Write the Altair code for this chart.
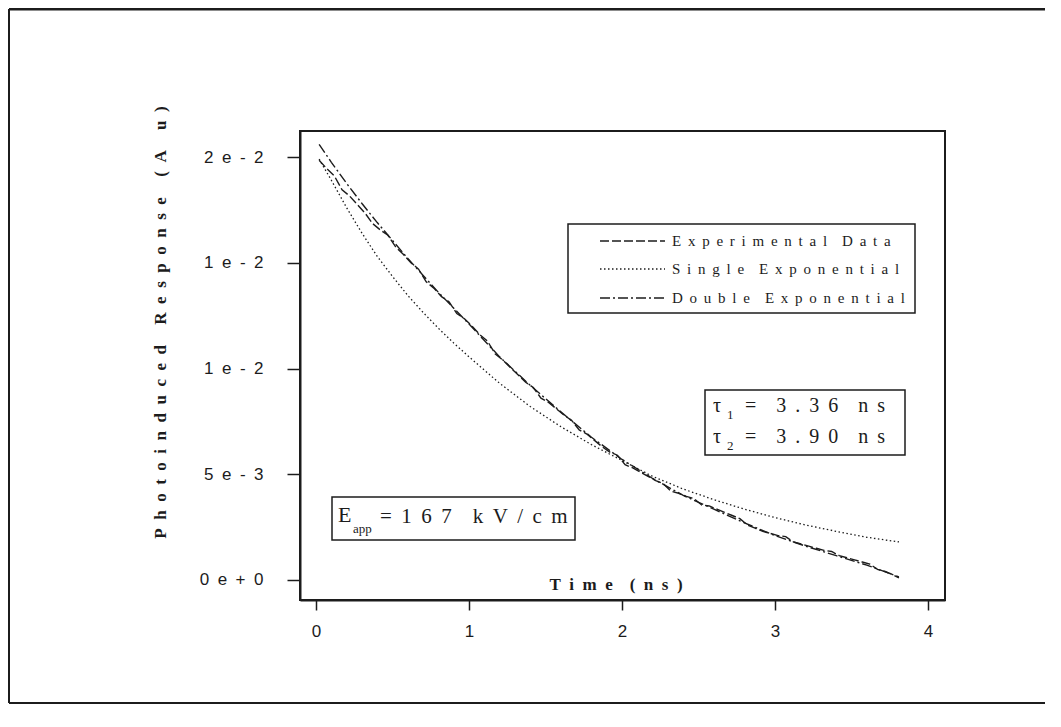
import altair as alt
import pandas as pd

# ---------------- data ----------------
# time in ns, response in units of 1e-3 (A u)
t_exp = [0.02, 0.07, 0.12, 0.17, 0.22, 0.27, 0.32, 0.37, 0.42, 0.47, 0.52, 0.57, 0.62,
         0.67, 0.72, 0.77, 0.82, 0.87, 0.92, 0.97, 1.02, 1.07, 1.12, 1.17, 1.22, 1.27,
         1.32, 1.37, 1.42, 1.47, 1.52, 1.57, 1.62, 1.67, 1.72, 1.77, 1.82, 1.87, 1.92,
         1.97, 2.02, 2.07, 2.12, 2.17, 2.22, 2.27, 2.32, 2.37, 2.42, 2.47, 2.52, 2.57,
         2.62, 2.67, 2.72, 2.77, 2.82, 2.87, 2.92, 2.97, 3.02, 3.07, 3.12, 3.17, 3.22,
         3.27, 3.32, 3.37, 3.42, 3.47, 3.52, 3.57, 3.62, 3.67, 3.72, 3.77, 3.81]
y_exp = [19.85, 19.45, 19.10, 18.45, 18.15, 17.75, 17.35, 16.85, 16.55, 16.30, 15.75, 15.40,
         15.00, 14.70, 14.10, 13.80, 13.40, 13.15, 12.60, 12.35, 12.00, 11.60, 11.30, 10.70,
         10.40, 10.05, 9.70, 9.35, 9.10, 8.60, 8.40, 8.10, 7.80, 7.55, 7.10, 6.90, 6.60,
         6.30, 6.05, 5.90, 5.45, 5.30, 5.10, 4.90, 4.70, 4.55, 4.20, 4.10, 3.95, 3.85,
         3.55, 3.50, 3.35, 3.20, 3.05, 2.90, 2.60, 2.45, 2.30, 2.20, 2.10, 2.05, 1.80,
         1.70, 1.60, 1.50, 1.40, 1.35, 1.15, 1.05, 0.95, 0.85, 0.75, 0.50, 0.40, 0.25, 0.10]

t_single = [0.02, 0.1, 0.2, 0.3, 0.4, 0.5, 0.6, 0.7, 0.8, 0.9, 1.0, 1.2, 1.4, 1.6, 1.8,
            2.0, 2.2, 2.4, 2.6, 2.8, 3.0, 3.2, 3.4, 3.6, 3.81]
y_single = [19.9, 18.9, 17.6, 16.4, 15.3, 14.35, 13.45, 12.65, 11.9, 11.2, 10.55, 9.3,
            8.2, 7.25, 6.4, 5.65, 4.9, 4.3, 3.8, 3.35, 2.95, 2.6, 2.3, 2.02, 1.8]

t_double = [0.02, 0.1, 0.2, 0.3, 0.4, 0.5, 0.6, 0.7, 0.8, 0.9, 1.0, 1.2, 1.4, 1.6, 1.8,
            2.0, 2.2, 2.4, 2.6, 2.8, 3.0, 3.2, 3.4, 3.6, 3.81]
y_double = [20.6, 19.75, 18.75, 17.8, 16.9, 16.05, 15.2, 14.4, 13.6, 12.85, 12.1, 10.55,
            9.2, 7.95, 6.75, 5.7, 4.8, 4.0, 3.35, 2.7, 2.1, 1.6, 1.15, 0.7, 0.15]

x_ticks = [0, 1, 2, 3, 4]
y_ticks = [0, 5, 10, 15, 20]
y_tick_labels = ["0e+0", "5e-3", "1e-2", "1e-2", "2e-2"]
legend_labels = ["Experimental Data", "Single Exponential", "Double Exponential"]
x_title = "Time (ns)"
y_title = "Photoinduced Response (A u)"
tau_lines = [("1", "= 3.36 ns"), ("2", "= 3.90 ns")]
field_text = ("E", "app", "=167 kV/cm")

INK = "#1c1c1c"
SERIF = "Liberation Serif"
SANS = "Liberation Sans"
EN = "\u2002"
THIN = "\u2009"
NB = "\u00a0"


def spaced(s, sep, word):
    return word.join(sep.join(list(w)) for w in s.split(" "))


one = pd.DataFrame({"k": [0]})


def text(s, x, y, size, weight="normal", align="left", font=SERIF):
    return alt.Chart(one).mark_text(
        text=s, align=align, baseline="middle", font=font, fontSize=size,
        fontWeight=weight, color=INK
    ).encode(x=alt.value(x), y=alt.value(y))


def box(x1, x2, y1, y2, sw=1.5):
    return alt.Chart(one).mark_rect(fill="white", stroke=INK, strokeWidth=sw).encode(
        x=alt.value(x1), x2=alt.value(x2), y=alt.value(y1), y2=alt.value(y2))


def hrule(x1, x2, y, sw=1.4, dash=None):
    kw = dict(color=INK, strokeWidth=sw)
    if dash:
        kw["strokeDash"] = dash
    return alt.Chart(one).mark_rule(**kw).encode(
        x=alt.value(x1), x2=alt.value(x2), y=alt.value(y))


def vrule(x, y1, y2, sw=2):
    return alt.Chart(one).mark_rule(color=INK, strokeWidth=sw).encode(
        x=alt.value(x), y=alt.value(y1), y2=alt.value(y2))


# label expression for the y axis
label_map = " : ".join(
    f"datum.value == {v} ? '{spaced(l, EN, EN)}'" for v, l in zip(y_ticks, y_tick_labels)
) + " : ''"

x_enc = alt.X("t:Q", scale=alt.Scale(domain=[-0.105, 4.111], nice=False, zero=False),
              axis=alt.Axis(values=x_ticks, format="d", title=None, grid=False,
                            tickSize=10, tickWidth=1.5, tickColor=INK,
                            domainColor=INK, domainWidth=2,
                            labelFont=SANS, labelFontSize=17, labelColor=INK,
                            labelPadding=13))
y_enc = alt.Y("v:Q", scale=alt.Scale(domain=[-0.946, 21.23], nice=False, zero=False),
              axis=alt.Axis(values=y_ticks, labelExpr=label_map, grid=False,
                            title=spaced(y_title, EN, EN + EN + THIN), titleFont=SERIF,
                            titleFontWeight="bold", titleFontSize=17, titleColor=INK,
                            titleAngle=270, titleX=-140, titleY=191,
                            titleAlign="center", titleBaseline="middle",
                            tickSize=13, tickWidth=1.5, tickColor=INK,
                            domainColor=INK, domainWidth=2,
                            labelFont=SANS, labelFontSize=17, labelColor=INK,
                            labelPadding=24))

df_exp = pd.DataFrame({"t": t_exp, "v": y_exp})
df_single = pd.DataFrame({"t": t_single, "v": y_single})
df_double = pd.DataFrame({"t": t_double, "v": y_double})

DASH_EXP = [9, 3]
DASH_SINGLE = [1.5, 2.5]
DASH_DOUBLE = [10, 3, 2, 3]

line_exp = alt.Chart(df_exp).mark_line(color=INK, strokeWidth=1.4, strokeDash=DASH_EXP).encode(
    x=x_enc, y=y_enc)
line_single = alt.Chart(df_single).mark_line(color=INK, strokeWidth=1.3, strokeDash=DASH_SINGLE).encode(
    x=x_enc, y=y_enc)
line_double = alt.Chart(df_double).mark_line(color=INK, strokeWidth=1.4, strokeDash=DASH_DOUBLE).encode(
    x=x_enc, y=y_enc)

layers = [line_single, line_double, line_exp]

# outer frame of the figure (padding area)
layers += [hrule(-291, 745, -122, sw=3), vrule(-291, -122, 572, sw=2), hrule(-291, 745, 572, sw=2)]

# x title inside the plot
layers.append(text(spaced(x_title, EN, EN + EN), 316, 454, 17, weight="bold", align="center"))

# legend
layers.append(box(268, 615, 93, 182))
rows = [110, 138, 167]
for lab, dsh, ry in zip(legend_labels, [DASH_EXP, DASH_SINGLE, DASH_DOUBLE], rows):
    layers.append(hrule(300, 365, ry, sw=1.4, dash=dsh))
    layers.append(text(spaced(lab, NB + THIN, EN + EN), 372, ry, 15))

# tau box
layers.append(box(405, 605, 259, 324))
for (sub, rest), ry in zip(tau_lines, [275, 306]):
    layers.append(text("\u03c4", 413, ry, 20))
    layers.append(text(sub, 427, ry + 9, 13))
    layers.append(text(spaced(rest, NB + THIN, EN + EN), 445, ry, 20))

# applied field box
layers.append(box(32, 275, 366, 409))
layers.append(text(field_text[0], 38, 384, 22))
layers.append(text(field_text[1], 53, 398, 13))
layers.append(text(spaced(field_text[2], NB + THIN, EN + EN), 80, 386, 21))

chart = alt.layer(*layers).properties(
    width=645, height=469,
    autosize=alt.AutoSizeParams(type="none"),
    padding={"left": 292, "top": 123, "right": 100, "bottom": 105},
    background="white",
).configure_view(stroke=INK, strokeWidth=2)

chart.save("out.html", embed_options={"renderer": "svg", "actions": False})
